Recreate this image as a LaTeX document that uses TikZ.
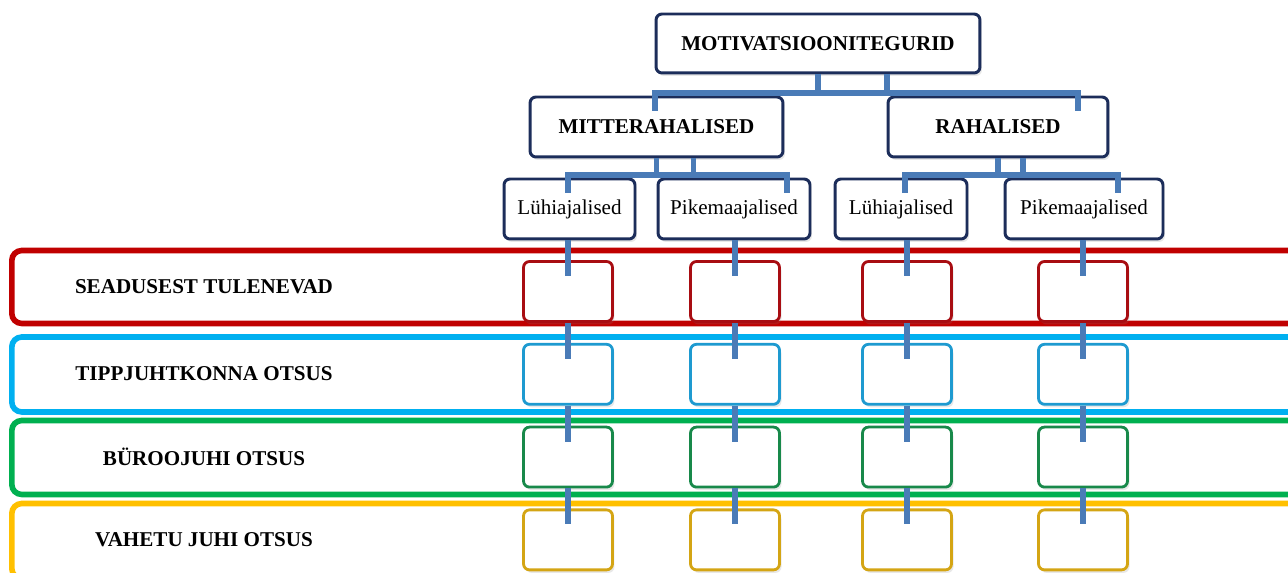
\documentclass[tikz,border=0pt]{standalone}
\usepackage{fontspec}
\setmainfont{Liberation Serif}
\usetikzlibrary{positioning}
\usetikzlibrary{calc}
\usetikzlibrary{shadows}

\definecolor{navy}{HTML}{1C2D5A}
\definecolor{connblue}{HTML}{4A7BB7}
\definecolor{bandred}{HTML}{C00000}
\definecolor{bandblue}{HTML}{00B0F0}
\definecolor{bandgreen}{HTML}{00B050}
\definecolor{bandyellow}{HTML}{FFC000}
\definecolor{cellred}{HTML}{A80D12}
\definecolor{cellblue}{HTML}{1E9AD0}
\definecolor{cellgreen}{HTML}{18894A}
\definecolor{cellyellow}{HTML}{D4A514}

\tikzset{
	box/.style={draw=navy, line width=1.7pt, rounded corners=0.12cm,
		fill=white, inner sep=0pt,
		drop shadow={opacity=0.18, shadow xshift=0.04cm, shadow yshift=-0.06cm},
		font=\fontsize{12}{14}\selectfont},
	headbox/.style={box, font=\bfseries\fontsize{12}{14}\selectfont},
	band/.style={draw=#1, line width=3.2pt, rounded corners=0.2cm,
		minimum width=26cm, inner sep=0pt, anchor=west},
	cell/.style={draw=#1, line width=1.6pt, rounded corners=0.12cm,
		fill=white, minimum width=1.78cm, minimum height=1.2cm, inner sep=0pt,
		drop shadow={opacity=0.18, shadow xshift=0.04cm, shadow yshift=-0.06cm}},
	rowlabel/.style={font=\bfseries\fontsize{12}{14}\selectfont},
	conn/.style={draw=connblue, line width=3.4pt}
}

\begin{document}
\begin{tikzpicture}[x=0.02cm, y=-0.02cm]
	\clip (0,0) rectangle (1288,573);

	% rows
	\node [band=bandred, minimum height=1.46cm] (seadBand) at (9,287) {};
	\node [band=bandblue, minimum height=1.5cm] (tippBand) at (9,374.5) {};
	\node [band=bandgreen, minimum height=1.48cm] (buroBand) at (9,457.5) {};
	\node [band=bandyellow, minimum height=1.5cm] (vaheBand) at (9,541) {};
	\node [rowlabel] (seadLab) at (204,287) {SEADUSEST TULENEVAD};
	\node [rowlabel] (tippLab) at (204,374) {TIPPJUHTKONNA OTSUS};
	\node [rowlabel] (buroLab) at (204,457) {BÜROOJUHI OTSUS};
	\node [rowlabel] (vaheLab) at (204,540) {VAHETU JUHI OTSUS};

	% hierarchy
	\node [headbox, minimum width=6.48cm, minimum height=1.18cm]
		(motiv) at (818,43.5) {MOTIVATSIOONITEGURID};
	\node [headbox, minimum width=5.06cm, minimum height=1.2cm]
		(mitte) at (656.5,127) {MITTERAHALISED};
	\node [headbox, minimum width=4.4cm, minimum height=1.2cm]
		(raha) at (998,127) {RAHALISED};
	\node [box, minimum width=2.62cm, minimum height=1.2cm]
		(luhiM) at (569.5,209) {Lühiajalised};
	\node [box, minimum width=3.04cm, minimum height=1.2cm]
		(pikeM) at (734,209) {Pikemaajalised};
	\node [box, minimum width=2.64cm, minimum height=1.2cm]
		(luhiR) at (901,209) {Lühiajalised};
	\node [box, minimum width=3.16cm, minimum height=1.2cm]
		(pikeR) at (1084,209) {Pikemaajalised};

	% cells
	\foreach \col/\x in {1/568, 2/735, 3/907, 4/1083} {
		\node [cell=cellred] (sead\col) at (\x,291.5) {};
		\node [cell=cellblue, below=0.4cm of sead\col] (tipp\col) {};
		\node [cell=cellgreen, below=0.4cm of tipp\col] (buro\col) {};
		\node [cell=cellyellow, below=0.4cm of buro\col] (vahe\col) {};
	}

	% connectors
	\draw [conn] ($(motiv.south)+(69,0)$) -- ++(0,19) -| ($(mitte.north)+(-1.5,15)$);
	\draw [conn] (motiv.south) -- ++(0,19) -| ($(raha.north)+(80,15)$);
	\draw [conn] ($(mitte.south)+(37,0)$) -- ++(0,17) -| ($(luhiM.north)+(-1.5,15)$);
	\draw [conn] (mitte.south) -- ++(0,17) -| ($(pikeM.north)+(53,15)$);
	\draw [conn] ($(raha.south)+(25,0)$) -- ++(0,17) -| ($(luhiR.north)+(4,15)$);
	\draw [conn] (raha.south) -- ++(0,17) -| ($(pikeR.north)+(34,15)$);
	\draw [conn] (sead1.north |- luhiM.south) -- ($(sead1.north)+(0,16)$);
	\draw [conn] (sead2.north |- pikeM.south) -- ($(sead2.north)+(0,16)$);
	\draw [conn] (sead3.north |- luhiR.south) -- ($(sead3.north)+(0,16)$);
	\draw [conn] (sead4.north |- pikeR.south) -- ($(sead4.north)+(0,16)$);
	\foreach \col in {1,...,4} {
		\draw [conn] (sead\col.south) -- ($(tipp\col.north)+(0,16)$);
		\draw [conn] (tipp\col.south) -- ($(buro\col.north)+(0,16)$);
		\draw [conn] (buro\col.south) -- ($(vahe\col.north)+(0,16)$);
	}
\end{tikzpicture}
\end{document}
